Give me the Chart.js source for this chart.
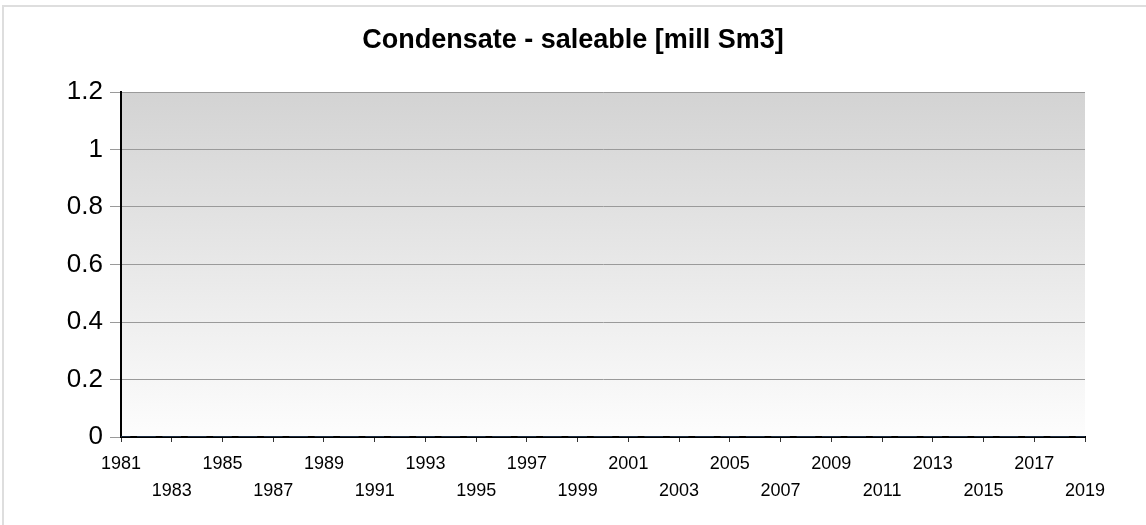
<!DOCTYPE html>
<html>
<head>
<meta charset="utf-8">
<script src="https://cdn.jsdelivr.net/npm/chart.js@4"></script>
<style>
  html, body { margin: 0; padding: 0; background: #fff; }
  .frame {
    position: absolute; left: 2px; top: 5px; right: -10px; bottom: -10px;
    border-left: 2px solid #dedede; border-top: 2px solid #dedede;
  }
  .wrap { position: absolute; left: 0; top: 0; width: 1146px; height: 525px; }
</style>
</head>
<body>
<div class="frame"></div>
<div class="wrap"><canvas id="chart" width="1146" height="525"></canvas></div>
<script>
const years = [];
for (let y = 1981; y <= 2019; y++) years.push(y);
// nothing reported for any year
const saleable = [0, 0, 0, 0, 0, 0, 0, 0, 0, 0, 0, 0, 0, 0, 0, 0, 0, 0, 0, 0,
  0, 0, 0, 0, 0, 0, 0, 0, 0, 0, 0, 0, 0, 0, 0, 0, 0, 0, 0];
const yTicks = [0, 0.2, 0.4, 0.6, 0.8, 1, 1.2];

const plotBackground = {
  id: 'plotBackground',
  beforeDraw(chart) {
    const { ctx, chartArea: a } = chart;
    const g = ctx.createLinearGradient(0, a.top, 0, a.bottom);
    g.addColorStop(0, '#d3d3d3');
    g.addColorStop(1, '#fdfdfd');
    ctx.save();
    ctx.fillStyle = g;
    ctx.fillRect(a.left, a.top, a.right - a.left, a.bottom - a.top);
    ctx.restore();
  }
};

Chart.defaults.font.family = '"Liberation Sans", Arial, sans-serif';
Chart.defaults.color = '#000';

new Chart(document.getElementById('chart'), {
  type: 'bar',
  data: {
    datasets: [{
      label: 'Condensate - saleable',
      data: years.map((y, i) => ({ x: y, y: saleable[i] })),
      backgroundColor: '#4f81bd',
      barThickness: 18
    }]
  },
  options: {
    responsive: false,
    animation: false,
    layout: { padding: 0 },
    plugins: {
      legend: { display: false },
      tooltip: { enabled: false },
      title: {
        display: true,
        text: 'Condensate - saleable [mill Sm3]',
        font: { size: 27, weight: 'bold', lineHeight: 1.2 },
        color: '#000',
        padding: { top: 24, bottom: 35.6 }
      }
    },
    scales: {
      x: {
        type: 'linear',
        min: 1981,
        max: 2019,
        offset: false,
        afterFit(s) { s.height = 88; },
        border: { color: '#000', width: 2 },
        grid: { offset: false, drawOnChartArea: false, drawTicks: true, tickLength: 5, color: '#333' },
        ticks: {
          stepSize: 2,
          autoSkip: false,
          maxRotation: 0,
          padding: 9,
          font: { size: 18, lineHeight: 1.5 },
          callback: v => ((v - 1981) / 2) % 2 === 0 ? [String(v), ''] : ['', String(v)]
        }
      },
      y: {
        min: 0,
        max: 1.2,
        afterFit(s) { s.width = 121; },
        afterBuildTicks(s) { s.ticks = yTicks.map(v => ({ value: v })); },
        border: { color: '#000', width: 2 },
        grid: { color: '#9a9a9a', tickLength: 11, lineWidth: 1 },
        ticks: {
          padding: 7,
          font: { size: 26 },
          callback: v => String(Math.round(v * 10) / 10)
        }
      },
      // empty strip on the right so the plot ends where the reference does
      yRight: {
        position: 'right',
        afterFit(s) { s.width = 61; },
        grid: { display: false },
        border: { display: false },
        ticks: { display: false }
      }
    }
  },
  plugins: [plotBackground]
});
</script>
</body>
</html>
